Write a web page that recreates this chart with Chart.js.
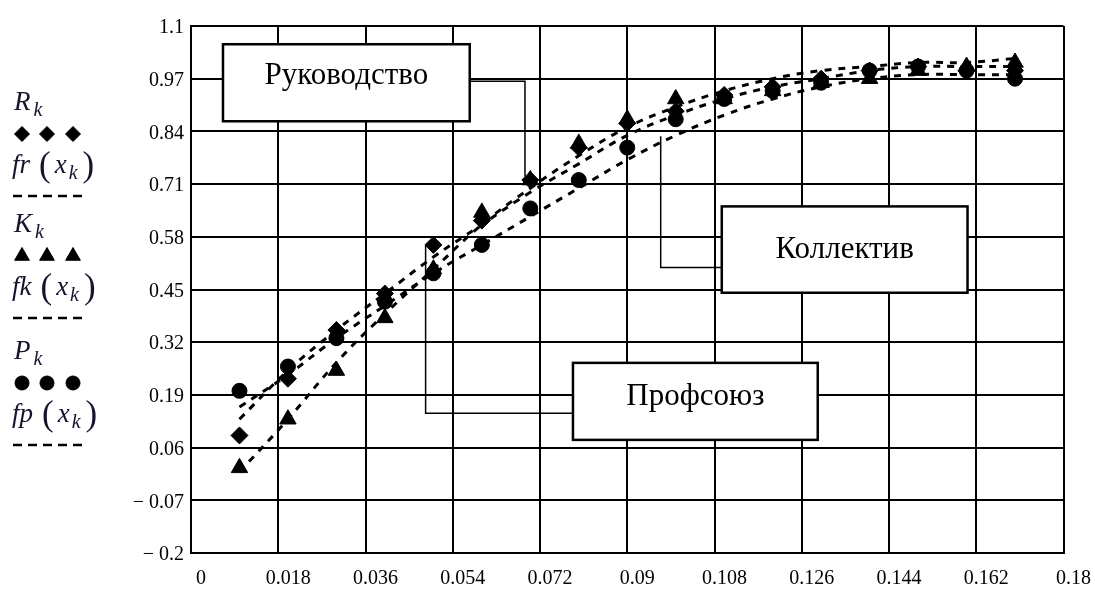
<!DOCTYPE html>
<html>
<head>
<meta charset="utf-8">
<script src="https://cdn.jsdelivr.net/npm/chart.js@4.4.0/dist/chart.umd.min.js"></script>
<style>
  html, body { margin: 0; padding: 0; background: #fff; }
  #wrap { position: relative; width: 1095px; height: 595px; }
</style>
</head>
<body>
<div id="wrap"><canvas id="chart" width="1095" height="595"></canvas></div>
<script>
// x_k values
const xk = [0.01, 0.02, 0.03, 0.04, 0.05, 0.06, 0.07, 0.08, 0.09, 0.10, 0.11, 0.12, 0.13, 0.14, 0.15, 0.16, 0.17];

// measured points
const Rk = [0.09, 0.23, 0.35, 0.44, 0.56, 0.62, 0.72, 0.80, 0.86, 0.89, 0.93, 0.95, 0.97, 0.99, 1.00, 0.99, 0.99];
const Kk = [0.01, 0.13, 0.25, 0.38, 0.50, 0.64, 0.72, 0.81, 0.87, 0.92, 0.92, 0.94, 0.96, 0.97, 0.99, 1.00, 1.01];
const Pk = [0.20, 0.26, 0.33, 0.42, 0.49, 0.56, 0.65, 0.72, 0.80, 0.87, 0.92, 0.94, 0.96, 0.99, 1.00, 0.99, 0.97];

// fitted curves fr, fk, fp
const frx = [0.13, 0.25, 0.35, 0.44, 0.53, 0.61, 0.69, 0.76, 0.83, 0.88, 0.92, 0.95, 0.97, 0.99, 1.00, 1.00, 1.00];
const fkx = [0.00, 0.13, 0.27, 0.39, 0.50, 0.61, 0.70, 0.78, 0.85, 0.90, 0.94, 0.97, 0.99, 1.00, 1.01, 1.01, 1.02];
const fpx = [0.16, 0.24, 0.33, 0.41, 0.49, 0.56, 0.63, 0.70, 0.77, 0.83, 0.88, 0.92, 0.95, 0.97, 0.98, 0.98, 0.98];

const xTicks = [0, 0.018, 0.036, 0.054, 0.072, 0.09, 0.108, 0.126, 0.144, 0.162, 0.18];
const xTickLabels = ['0', '0.018', '0.036', '0.054', '0.072', '0.09', '0.108', '0.126', '0.144', '0.162', '0.18'];
const yTicks = [-0.2, -0.07, 0.06, 0.19, 0.32, 0.45, 0.58, 0.71, 0.84, 0.97, 1.1];
const yTickLabels = ['\u2212 0.2', '\u2212 0.07', '0.06', '0.19', '0.32', '0.45', '0.58', '0.71', '0.84', '0.97', '1.1'];

const pts = ys => xk.map((x, i) => ({ x: x, y: ys[i] }));

// callouts, in data units
const notes = [
  { text: 'Руководство', box: [0.0066, 1.055, 0.0575, 0.865], ty: 0.978,
    lead: [[0.0575, 0.964], [0.0689, 0.964], [0.0689, 0.729]] },
  { text: 'Коллектив', box: [0.1095, 0.655, 0.1602, 0.442], ty: 0.548,
    lead: [[0.1095, 0.504], [0.0969, 0.504], [0.0969, 0.828]] },
  { text: 'Профсоюз', box: [0.0788, 0.269, 0.1293, 0.079], ty: 0.185,
    lead: [[0.0788, 0.145], [0.0484, 0.145], [0.0484, 0.557]] }
];

const calloutPlugin = {
  id: 'callouts',
  afterDatasetsDraw(chart) {
    const c = chart.ctx, sx = chart.scales.x, sy = chart.scales.y;
    c.save();
    c.strokeStyle = '#000';
    notes.forEach(n => {
      c.lineWidth = 1.5;
      c.beginPath();
      n.lead.forEach((p, i) => {
        const px = sx.getPixelForValue(p[0]), py = sy.getPixelForValue(p[1]);
        if (i === 0) c.moveTo(px, py); else c.lineTo(px, py);
      });
      c.stroke();
      const x0 = sx.getPixelForValue(n.box[0]), y0 = sy.getPixelForValue(n.box[1]);
      const x1 = sx.getPixelForValue(n.box[2]), y1 = sy.getPixelForValue(n.box[3]);
      c.fillStyle = '#fff';
      c.fillRect(x0, y0, x1 - x0, y1 - y0);
      c.lineWidth = 2.5;
      c.strokeRect(x0, y0, x1 - x0, y1 - y0);
      c.fillStyle = '#000';
      c.font = '31px "Liberation Serif"';
      c.textAlign = 'center';
      c.textBaseline = 'middle';
      c.fillText(n.text, (x0 + x1) / 2, sy.getPixelForValue(n.ty));
    });
    c.restore();
  }
};

// left side legend, Mathcad style
function drawLabel(c, x, y, name, fn) {
  c.textAlign = 'left';
  c.textBaseline = 'alphabetic';
  c.fillStyle = '#14142e';
  c.font = 'italic 27px "Liberation Serif"';
  c.fillText(name, x, y);
  let cx = x + c.measureText(name).width;
  if (!fn) {
    c.font = 'italic 20px "Liberation Serif"';
    c.fillText('k', cx + 3, y + 6);
    return;
  }
  cx += 9;
  c.font = '35px "Liberation Serif"';
  c.fillText('(', cx, y + 3);
  cx += c.measureText('(').width + 4;
  c.font = 'italic 27px "Liberation Serif"';
  c.fillText('x', cx, y);
  cx += c.measureText('x').width + 2;
  c.font = 'italic 20px "Liberation Serif"';
  c.fillText('k', cx, y + 6);
  cx += c.measureText('k').width + 5;
  c.font = '35px "Liberation Serif"';
  c.fillText(')', cx, y + 3);
}

function drawDashes(c, y) {
  c.strokeStyle = '#000';
  c.lineWidth = 2.5;
  for (let i = 0; i < 5; i++) {
    c.beginPath();
    c.moveTo(13 + i * 15, y);
    c.lineTo(22 + i * 15, y);
    c.stroke();
  }
}

const legendPlugin = {
  id: 'mathcadLegend',
  afterDraw(chart) {
    const c = chart.ctx;
    c.save();
    const marks = [
      { y: 110, name: 'R', fn: 'fr', style: 'rectRot', r: 7.5 },
      { y: 232, name: 'K', fn: 'fk', style: 'triangle', r: 8.5 },
      { y: 359, name: 'P', fn: 'fp', style: 'circle', r: 7 }
    ];
    marks.forEach(m => {
      drawLabel(c, 14, m.y, m.name, false);
      c.fillStyle = '#000';
      c.strokeStyle = '#000';
      c.lineWidth = 1;
      [22, 47, 73].forEach(px => {
        Chart.helpers.drawPoint(c, { pointStyle: m.style, radius: m.r, borderWidth: 1 }, px, m.y + 24);
      });
      drawLabel(c, 12, m.y + 63, m.fn, true);
      drawDashes(c, m.y + 86);
    });
    c.restore();
  }
};

const tickFont = { family: 'Liberation Serif', size: 20 };

new Chart(document.getElementById('chart'), {
  type: 'scatter',
  data: {
    datasets: [
      { label: 'fr', data: pts(frx), showLine: true, pointRadius: 0, borderColor: '#000',
        borderWidth: 3, borderDash: [7, 7], tension: 0.4, order: 2 },
      { label: 'fk', data: pts(fkx), showLine: true, pointRadius: 0, borderColor: '#000',
        borderWidth: 3, borderDash: [7, 7], tension: 0.4, order: 2 },
      { label: 'fp', data: pts(fpx), showLine: true, pointRadius: 0, borderColor: '#000',
        borderWidth: 3, borderDash: [7, 7], tension: 0.4, order: 2 },
      { label: 'R', data: pts(Rk), pointStyle: 'rectRot', pointRadius: 8.5,
        backgroundColor: '#000', borderColor: '#000', order: 1 },
      { label: 'K', data: pts(Kk), pointStyle: 'triangle', pointRadius: 9.5,
        backgroundColor: '#000', borderColor: '#000', order: 1 },
      { label: 'P', data: pts(Pk), pointStyle: 'circle', pointRadius: 7.5,
        backgroundColor: '#000', borderColor: '#000', order: 1 }
    ]
  },
  options: {
    responsive: false,
    animation: false,
    devicePixelRatio: 1,
    layout: { padding: { top: 26, right: 31, left: 0, bottom: 0 } },
    plugins: { legend: { display: false }, tooltip: { enabled: false } },
    scales: {
      x: {
        type: 'linear', min: 0, max: 0.18,
        afterBuildTicks: s => { s.ticks = xTicks.map(v => ({ value: v })); },
        afterFit: s => { s.height = 42; },
        grid: { color: '#000', lineWidth: 2, drawTicks: false },
        border: { color: '#000', width: 2 },
        ticks: { color: '#000', font: tickFont, padding: 14, labelOffset: 10, maxRotation: 0,
                 autoSkip: false, callback: (v, i) => xTickLabels[i] }
      },
      y: {
        type: 'linear', min: -0.2, max: 1.1,
        afterBuildTicks: s => { s.ticks = yTicks.map(v => ({ value: v })); },
        afterFit: s => { s.width = 191; },
        grid: { color: '#000', lineWidth: 2, drawTicks: false },
        border: { color: '#000', width: 2 },
        ticks: { color: '#000', font: tickFont, padding: 7, labelOffset: 2,
                 autoSkip: false, callback: (v, i) => yTickLabels[i] }
      }
    }
  },
  plugins: [calloutPlugin, legendPlugin]
});
</script>
</body>
</html>
